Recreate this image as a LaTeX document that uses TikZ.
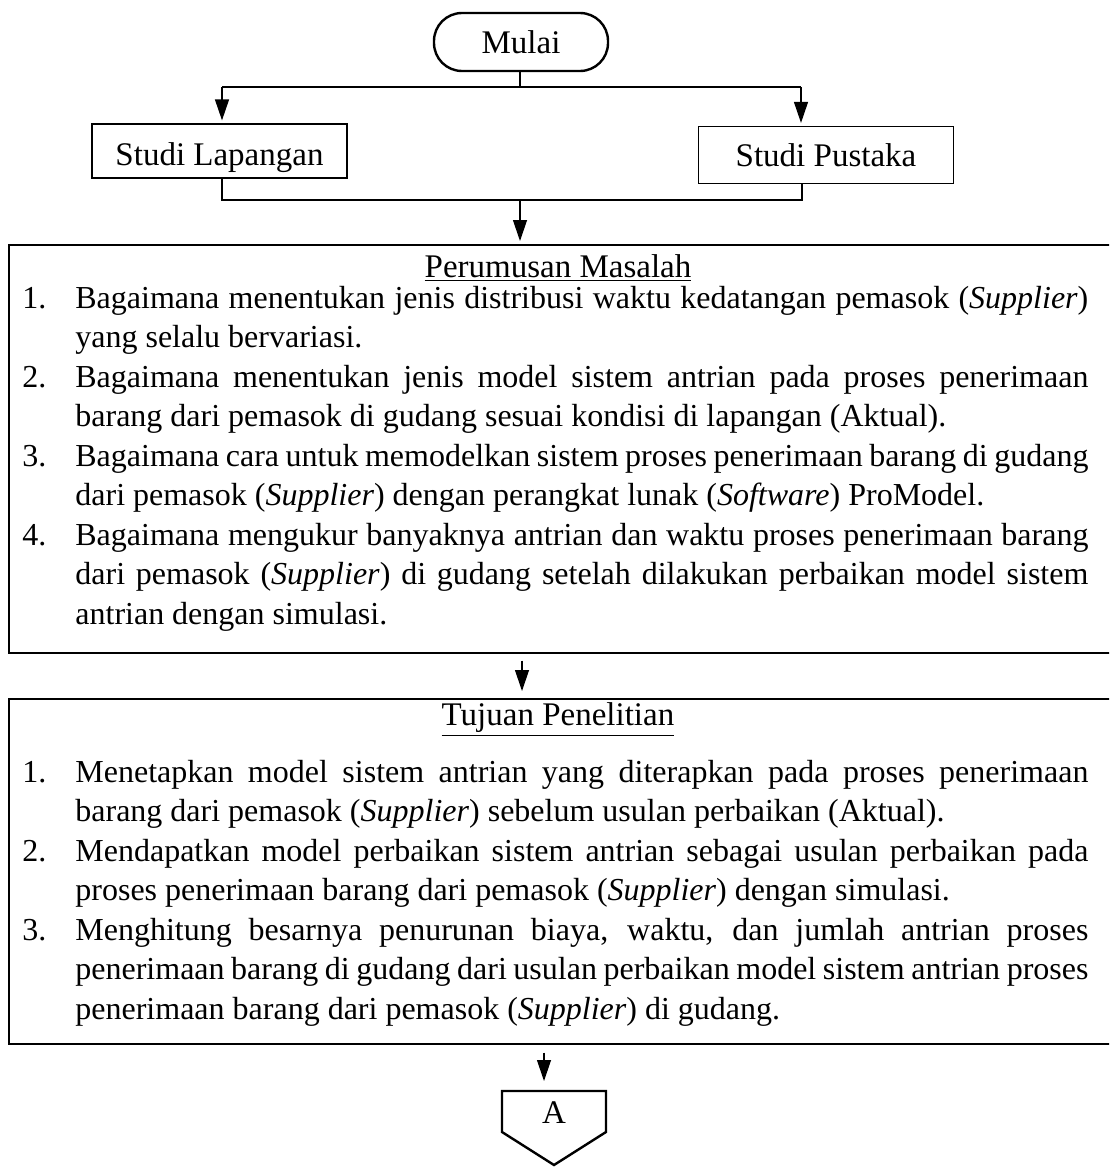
\documentclass[tikz,border=0pt]{standalone}
\usepackage{fontspec}
\setmainfont{Liberation Serif}
\usetikzlibrary{arrows.meta}

% justified line of a numbered list (number column + full-width line)
\newcommand\jline[2]{\makebox[26.5pt][l]{#1}\makebox[506.5pt][s]{#2}}
% last (ragged) line of an entry
\newcommand\rline[2]{\makebox[26.5pt][l]{#1}#2}
% interword glue that may shrink for tight justified lines
\newcommand\bodyspacing{\spaceskip=4pt plus 9pt minus 2.6pt\relax\rule{0pt}{14pt}}

\begin{document}
\begin{tikzpicture}[x=0.5pt,y=-0.5pt,
  every node/.style={font=\fontsize{16.5pt}{19.75pt}\selectfont},
  line/.style={line width=0.6pt},
  arr/.style={line width=0.6pt,-{Triangle[length=10.5pt,width=7pt]},shorten >=1.5pt},
  term/.style={draw,line width=1.2pt,rounded corners=14pt,minimum width=87pt,minimum height=29pt,inner sep=0pt},
  studibox/.style={draw,line width=0.6pt,minimum width=127.5pt,minimum height=27pt,inner sep=0pt,text height=0.66em,text depth=0pt},
  bigbox/.style={draw,line width=0.8pt,anchor=north west,minimum width=560pt,inner sep=0pt},
  itemtext/.style={font=\fontsize{16pt}{19.75pt}\selectfont,anchor=north west,text width=533pt,align=left,inner sep=0pt}]
\useasboundingbox (0,0) rectangle (1109,1167);
\clip (0,0) rectangle (1109,1167);

% start terminator and the two study boxes
\node[term] (mulai) at (521,42) {Mulai};
\node[studibox,text height=1.4em] (sl) at (219.5,151) {Studi Lapangan};
\node[studibox,minimum height=28.5pt,text height=1.1em] (sp) at (826,155) {Studi Pustaka};

% fork from the start node
\coordinate (fork) at (520,87);
\coordinate (fl) at (222,87);
\coordinate (fr) at (801,87);
\draw[line] (fork |- mulai.south) -- (fork);
\draw[line] (fl) -- (fr);
\draw[arr] (fl) -- (fl |- sl.north);
\draw[arr] (fr) -- (fr |- sp.north);

% problem formulation box
\node[bigbox,minimum height=204pt] (pm) at (8,244) {};
\node (pmtitle) at (558,268) {\underline{Perumusan Masalah}};
\node[itemtext] (pmitems) at (22,280) {\bodyspacing
\jline{1.}{Bagaimana menentukan jenis distribusi waktu kedatangan pemasok (\textit{Supplier})}\\
\rline{}{yang selalu bervariasi.}\\
\jline{2.}{Bagaimana menentukan jenis model sistem antrian pada proses penerimaan}\\
\rline{}{barang dari pemasok di gudang sesuai kondisi di lapangan (Aktual).}\\
\jline{3.}{Bagaimana cara untuk memodelkan sistem proses penerimaan barang di gudang}\\
\rline{}{dari pemasok (\textit{Supplier}) dengan perangkat lunak (\textit{Software}) ProModel.}\\
\jline{4.}{Bagaimana mengukur banyaknya antrian dan waktu proses penerimaan barang}\\
\jline{}{dari pemasok (\textit{Supplier}) di gudang setelah dilakukan perbaikan model sistem}\\
\rline{}{antrian dengan simulasi.}};

% join of the two study boxes
\coordinate (jl) at (222,200);
\coordinate (jr) at (802,200);
\coordinate (jm) at (520,200);
\draw[line] (jl |- sl.south) -- (jl) -- (jr) -- (jr |- sp.south);
\draw[arr] (jm) -- (jm |- pm.north);

% research objective box
\node[bigbox,minimum height=172.5pt] (tp) at (8,698) {};
\node (tptitle) at (558,720) {\underline{Tujuan Penelitian}};
\node[itemtext] (tpitems) at (22,754) {\bodyspacing
\jline{1.}{Menetapkan model sistem antrian yang diterapkan pada proses penerimaan}\\
\rline{}{barang dari pemasok (\textit{Supplier}) sebelum usulan perbaikan (Aktual).}\\
\jline{2.}{Mendapatkan model perbaikan sistem antrian sebagai usulan perbaikan pada}\\
\rline{}{proses penerimaan barang dari pemasok (\textit{Supplier}) dengan simulasi.}\\
\jline{3.}{Menghitung besarnya penurunan biaya, waktu, dan jumlah antrian proses}\\
\jline{}{penerimaan barang di gudang dari usulan perbaikan model sistem antrian proses}\\
\rline{}{penerimaan barang dari pemasok (\textit{Supplier}) di gudang.}};

\coordinate (mid) at (522,0);
\draw[arr,shorten <=3.5pt,shorten >=3.5pt] (mid |- pm.south) -- (mid |- tp.north);

% off-page connector
\node (offA) at (554,1113) {A};
\draw[line width=1.2pt] (502,1132) -- (502,1091) -- (606,1091) -- (606,1132) -- (554,1165) -- cycle;
\coordinate (atop) at (544,1091);
\draw[arr,shorten <=4pt,shorten >=5pt] (atop |- tp.south) -- (atop);
\end{tikzpicture}
\end{document}
